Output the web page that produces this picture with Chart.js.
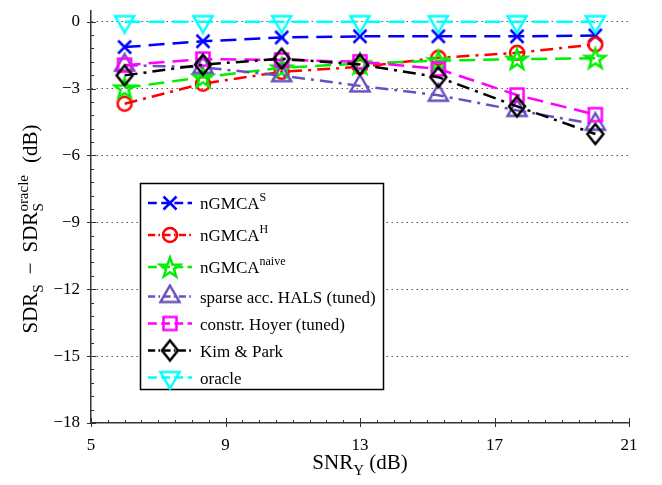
<!DOCTYPE html>
<html>
<head>
<meta charset="utf-8">
<script src="https://cdn.jsdelivr.net/npm/chart.js@4.4.0/dist/chart.umd.min.js"></script>
<style>
html, body { margin: 0; padding: 0; background: #fff; }
#wrap { width: 662px; height: 485px; }
</style>
</head>
<body>
<div id="wrap"><canvas id="sdrChart" width="662" height="485"></canvas></div>
<script>
// SNR of the observations (dB)
const snr = [6, 8.33, 10.67, 13, 15.33, 17.67, 20];

// SDR loss against the oracle (dB)
const ngmcaS     = [-1.14, -0.88, -0.71, -0.66, -0.66, -0.66, -0.62];
const ngmcaH     = [-3.68, -2.78, -2.25, -2.03, -1.62, -1.40, -1.02];
const ngmcaNaive = [-2.97, -2.49, -2.07, -1.88, -1.75, -1.68, -1.64];
const halsTuned  = [-1.95, -2.05, -2.42, -2.88, -3.30, -3.98, -4.60];
const hoyerTuned = [-1.95, -1.68, -1.72, -1.80, -2.12, -3.29, -4.17];
const kimPark    = [-2.41, -1.93, -1.66, -1.92, -2.49, -3.80, -5.04];
const oracle     = [0, 0, 0, 0, 0, 0, 0];

const seriesNames = ['nGMCA^S', 'nGMCA^H', 'nGMCA^naive', 'sparse acc. HALS (tuned)',
                     'constr. Hoyer (tuned)', 'Kim & Park', 'oracle'];
const xTicks = [5, 9, 13, 17, 21];
const yTicks = [-18, -15, -12, -9, -6, -3, 0];

const FONT = '"Liberation Serif", "Times New Roman", serif';
const DASH = [16, 8];
const DASHDOT = [13, 6, 3, 6];

// Matlab-like open markers, drawn once on small canvases
function makeMarker(shape, color) {
    const size = 26, m = size / 2;
    const c = document.createElement('canvas');
    c.width = size; c.height = size;
    const g = c.getContext('2d');
    g.strokeStyle = color;
    g.lineWidth = 2.5;
    g.beginPath();
    if (shape === 'x') {
        const r = 6.5;
        g.moveTo(m - r, m - r); g.lineTo(m + r, m + r);
        g.moveTo(m + r, m - r); g.lineTo(m - r, m + r);
    } else if (shape === 'circle') {
        g.arc(m, m, 7, 0, Math.PI * 2);
    } else if (shape === 'star') {
        for (let i = 0; i < 10; i++) {
            const r = i % 2 ? 4.2 : 10.5;
            const a = -Math.PI / 2 + i * Math.PI / 5;
            const px = m + r * Math.cos(a), py = m + 1 + r * Math.sin(a);
            i ? g.lineTo(px, py) : g.moveTo(px, py);
        }
        g.closePath();
    } else if (shape === 'triUp' || shape === 'triDown') {
        const s = shape === 'triUp' ? 1 : -1;
        g.moveTo(m, m - s * 11);
        g.lineTo(m + 9.5, m + s * 5.5);
        g.lineTo(m - 9.5, m + s * 5.5);
        g.closePath();
    } else if (shape === 'square') {
        g.rect(m - 6.5, m - 6.5, 13, 13);
    } else if (shape === 'diamond') {
        g.moveTo(m, m - 10); g.lineTo(m + 8, m);
        g.lineTo(m, m + 10); g.lineTo(m - 8, m);
        g.closePath();
    }
    g.stroke();
    return c;
}

const styles = [
    { color: '#0000ff', marker: 'x',       dash: DASH },
    { color: '#ff0000', marker: 'circle',  dash: DASHDOT },
    { color: '#00ee00', marker: 'star',    dash: DASH },
    { color: '#6a4fbf', marker: 'triUp',   dash: DASHDOT },
    { color: '#ff00ff', marker: 'square',  dash: DASH },
    { color: '#000000', marker: 'diamond', dash: DASHDOT },
    { color: '#00ffff', marker: 'triDown', dash: DASH }
];
const seriesValues = [ngmcaS, ngmcaH, ngmcaNaive, halsTuned, hoyerTuned, kimPark, oracle];

const datasets = seriesValues.map((vals, i) => ({
    label: seriesNames[i],
    data: vals.map((v, k) => ({ x: snr[k], y: v })),
    borderColor: styles[i].color,
    backgroundColor: styles[i].color,
    borderWidth: 2.5,
    borderDash: styles[i].dash,
    pointStyle: makeMarker(styles[i].marker, styles[i].color),
    pointRadius: 8,
    tension: 0,
    order: seriesValues.length - i
}));

// text with sub/superscripts; {gap: n} adds n px of space
function partWidth(ctx, p, size) {
    const small = Math.round(size * 0.7);
    if (p.gap) return p.gap;
    if (p.stack) {
        ctx.font = small + 'px ' + FONT;
        return Math.max(ctx.measureText(p.sub).width, ctx.measureText(p.sup).width);
    }
    ctx.font = ((p.sub || p.sup) ? small : size) + 'px ' + FONT;
    return ctx.measureText(p.t).width;
}
function drawRich(ctx, parts, x, y, size, align) {
    const total = parts.reduce((s, p) => s + partWidth(ctx, p, size), 0);
    let cx = align === 'center' ? x - total / 2 : x;
    const small = Math.round(size * 0.7);
    ctx.textAlign = 'left';
    ctx.textBaseline = 'alphabetic';
    ctx.fillStyle = '#000';
    parts.forEach(p => {
        const w = partWidth(ctx, p, size);
        if (p.stack) {
            ctx.font = small + 'px ' + FONT;
            ctx.fillText(p.sub, cx, y + size * 0.3);
            ctx.fillText(p.sup, cx, y - size * 0.45);
        } else if (!p.gap) {
            ctx.font = ((p.sub || p.sup) ? small : size) + 'px ' + FONT;
            ctx.fillText(p.t, cx, y + (p.sub ? size * 0.3 : p.sup ? -size * 0.45 : 0));
        }
        cx += w;
    });
}
function parseLabel(label) {
    const k = label.indexOf('^');
    return k < 0 ? [{ t: label }] : [{ t: label.slice(0, k) }, { t: label.slice(k + 1), sup: true }];
}

const decorations = {
    id: 'decorations',
    afterDraw(chart) {
        const ctx = chart.ctx;
        const xs = chart.scales.x, ys = chart.scales.y;
        const left = chart.chartArea.left, bottom = chart.chartArea.bottom;

        // tick marks
        ctx.save();
        ctx.strokeStyle = '#333';
        ctx.lineWidth = 1;
        ctx.beginPath();
        for (let v = -18; v <= 0.001; v += 0.6) {
            const py = Math.round(ys.getPixelForValue(v)) + 0.5;
            const major = Math.abs(v / 3 - Math.round(v / 3)) < 0.01;
            ctx.moveTo(left - (major ? 4 : 0), py);
            ctx.lineTo(left + (major ? 5 : 3), py);
        }
        for (let v = 5; v <= 21.001; v += 0.5) {
            const px = Math.round(xs.getPixelForValue(v)) + 0.5;
            const major = Math.abs((v - 5) / 4 - Math.round((v - 5) / 4)) < 0.01;
            ctx.moveTo(px, bottom + (major ? 4 : 0));
            ctx.lineTo(px, bottom - (major ? 5 : 3));
        }
        ctx.stroke();
        ctx.restore();

        // axis titles
        ctx.save();
        drawRich(ctx, [{ t: 'SNR' }, { t: 'Y', sub: true }, { t: ' (dB)' }],
                 (xs.left + xs.right) / 2, 469, 21, 'center');
        ctx.translate(37, 229);
        ctx.rotate(-Math.PI / 2);
        drawRich(ctx, [{ t: 'SDR' }, { t: 'S', sub: true }, { gap: 10 }, { t: '\u2212' }, { gap: 10 },
                       { t: 'SDR' }, { stack: true, sub: 'S', sup: 'oracle' }, { gap: 12 }, { t: '(dB)' }],
                 0, 0, 21, 'center');
        ctx.restore();

        // legend box
        ctx.save();
        const bx = 140.5, by = 183.5, bw = 243, bh = 206;
        ctx.fillStyle = '#fff';
        ctx.fillRect(bx, by, bw, bh);
        ctx.strokeStyle = '#000';
        ctx.lineWidth = 1.5;
        ctx.strokeRect(bx, by, bw, bh);
        let yRow = 203, prevH = null;
        chart.data.datasets.forEach(ds => {
            const h = ds.label.indexOf('^') >= 0 ? 32 : 27;
            if (prevH !== null) yRow += (prevH + h) / 2;
            prevH = h;
            ctx.strokeStyle = ds.borderColor;
            ctx.lineWidth = ds.borderWidth;
            ctx.setLineDash(ds.borderDash.map(d => d * 0.55));
            ctx.beginPath();
            ctx.moveTo(148, yRow);
            ctx.lineTo(192, yRow);
            ctx.stroke();
            ctx.setLineDash([]);
            const img = ds.pointStyle;
            ctx.drawImage(img, 170 - img.width / 2, yRow - img.height / 2);
            drawRich(ctx, parseLabel(ds.label), 200, yRow + 6, 17, 'left');
        });
        ctx.restore();
    }
};

const ctx = document.getElementById('sdrChart').getContext('2d');
const sdrChart = new Chart(ctx, {
    type: 'line',
    data: { datasets: datasets },
    options: {
        responsive: false,
        animation: false,
        devicePixelRatio: 1,
        layout: { padding: { top: 2, right: 33, left: 0, bottom: 0 } },
        plugins: { legend: { display: false }, tooltip: { enabled: false } },
        scales: {
            x: {
                type: 'linear',
                min: 5,
                max: 21,
                afterBuildTicks: s => { s.ticks = xTicks.map(v => ({ value: v })); },
                afterFit: s => { s.height = 62; s.paddingLeft = 0; s.paddingRight = 0; },
                grid: { display: false, drawTicks: false },
                border: { display: true, color: '#333', width: 1.5 },
                ticks: { padding: 12, color: '#000', font: { family: FONT, size: 17 } }
            },
            y: {
                type: 'linear',
                min: -18,
                max: 0.5,
                afterBuildTicks: s => { s.ticks = yTicks.map(v => ({ value: v })); },
                afterFit: s => { s.width = 91; s.paddingTop = 0; s.paddingBottom = 0; },
                grid: {
                    drawTicks: false,
                    color: c => c.tick && c.tick.value === -18 ? 'rgba(0,0,0,0)' : '#555',
                    lineWidth: 1
                },
                border: { display: true, color: '#333', width: 1.5, dash: [1.5, 3.5] },
                ticks: {
                    padding: 11,
                    color: '#000',
                    font: { family: FONT, size: 17 },
                    callback: v => v < 0 ? '\u2212' + Math.abs(v) : String(v)
                }
            }
        }
    },
    plugins: [decorations]
});
</script>
</body>
</html>
